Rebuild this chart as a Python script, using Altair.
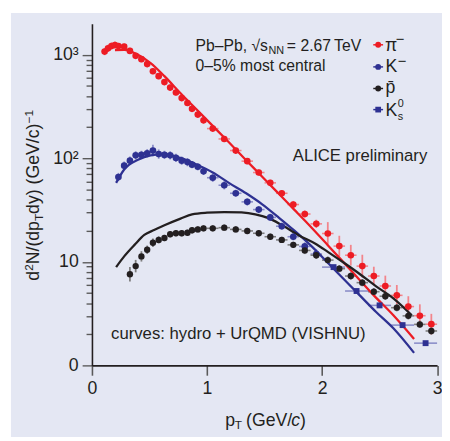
import altair as alt
import pandas as pd

FONT = "Liberation Sans"
TXT = "#231f20"
RED, RED_L = "#ed1c24", "#f2858b"
BLUE, BLUE_L = "#2e3192", "#8a8dc8"
BLACK, BLACK_L = "#231f20", "#7d7d7d"
BG = "#e4e7f3"

# ---------------- data ----------------
pi_pt = [0.11, 0.14, 0.17, 0.20, 0.23, 0.28, 0.33, 0.38, 0.43, 0.48, 0.53, 0.58, 0.63, 0.68,
         0.73, 0.78, 0.83, 0.87, 0.92, 0.97, 1.05, 1.15, 1.25, 1.35, 1.45, 1.55, 1.65, 1.75,
         1.85, 1.95, 2.05, 2.15, 2.25, 2.35, 2.45, 2.55, 2.65, 2.75, 2.85, 2.95]
pi_val = [1076, 1157, 1217, 1244, 1217, 1199, 1091, 979, 909, 815, 695, 623, 546, 483,
          433, 382, 343, 301, 265, 233, 194, 154, 119, 94, 73, 58, 46, 35.8,
          29, 23.3, 18.8, 14.2, 11.6, 9.1, 7.3, 5.85, 4.75, 3.7, 3.02, 2.5]
pi_err = [0.035, 0.035, 0.035, 0.035, 0.03, 0.03, 0.03, 0.03, 0.03, 0.03, 0.03, 0.03, 0.03, 0.03,
          0.03, 0.03, 0.03, 0.03, 0.03, 0.03, 0.03, 0.03, 0.03, 0.03, 0.03, 0.03, 0.03, 0.035,
          0.035, 0.04, 0.11, 0.10, 0.10, 0.11, 0.09, 0.10, 0.10, 0.10, 0.11, 0.10]

km_pt = [0.23, 0.28, 0.33, 0.38, 0.43, 0.48, 0.53, 0.58, 0.63, 0.68, 0.73, 0.78, 0.83,
         0.87, 0.92, 0.97, 1.05, 1.15, 1.25, 1.35, 1.45, 1.55, 1.65, 1.75, 1.85, 1.95]
km_val = [66, 85, 95, 107, 108, 112, 119, 110, 108, 107, 101, 95, 92,
          87, 83, 75, 65, 55, 46, 38, 32, 26.9, 22.1, 17.5, 14.1, 11.9]
km_err = [0.04, 0.04, 0.04, 0.04, 0.04, 0.04, 0.055, 0.045, 0.04, 0.04, 0.04, 0.04, 0.04,
          0.035, 0.035, 0.035, 0.04, 0.04, 0.035, 0.035, 0.035, 0.035, 0.035, 0.035, 0.04, 0.045]

k0_pt = [2.1, 2.3, 2.5, 2.7, 2.9]
k0_val = [8.9, 5.23, 3.8, 2.45, 1.64]
k0_err = [0.02, 0.02, 0.02, 0.02, 0.02]

pb_pt = [0.33, 0.38, 0.43, 0.48, 0.53, 0.58, 0.63, 0.68, 0.73, 0.78, 0.83, 0.87, 0.92, 0.97,
         1.05, 1.15, 1.25, 1.35, 1.45, 1.55, 1.65, 1.75, 1.85, 1.95, 2.05, 2.15, 2.25, 2.35,
         2.45, 2.55, 2.65, 2.75, 2.85, 2.95]
pb_val = [7.6, 9.1, 11.3, 13.1, 15.3, 16.3, 17.0, 18.5, 18.9, 18.9, 19.1, 20.2, 20.6, 21.1,
          21.1, 21.4, 20.6, 19.9, 18.9, 17.5, 16.3, 14.6, 12.9, 11.6, 10.4, 8.6, 7.3, 6.3,
          5.15, 4.66, 3.61, 3.01, 2.49, 2.15]
pb_err = [0.07, 0.06, 0.05, 0.04, 0.04, 0.035, 0.03, 0.03, 0.03, 0.03, 0.03, 0.03, 0.03, 0.03,
          0.03, 0.03, 0.03, 0.03, 0.03, 0.03, 0.03, 0.03, 0.035, 0.035, 0.035, 0.035, 0.035, 0.035,
          0.035, 0.035, 0.035, 0.035, 0.035, 0.035]

# hydro + UrQMD (VISHNU) curves
pi_curve_pt = [0.20, 0.28, 0.40, 0.51, 0.63, 0.77, 0.91, 1.05, 1.19, 1.34, 1.48, 1.62, 1.76,
               1.85, 2.05, 2.25, 2.45, 2.62, 2.80]
pi_curve_val = [1110, 1115, 1000, 834, 623, 426, 296, 206, 143, 96, 66.5, 46, 31.8,
                25.1, 14.5, 8.3, 4.75, 3.05, 1.8]

km_curve_pt = [0.21, 0.28, 0.40, 0.51, 0.63, 0.77, 0.91, 1.05, 1.19, 1.34, 1.48, 1.62, 1.76,
               1.91, 2.05, 2.19, 2.33, 2.47, 2.62, 2.80]
km_curve_val = [58, 78, 97, 107, 110, 101, 87, 73, 58, 46, 36, 27, 20,
                14.1, 9.8, 6.8, 4.72, 3.28, 2.28, 1.32]

pb_curve_pt = [0.21, 0.28, 0.37, 0.455, 0.54, 0.63, 0.77, 0.87, 1.0, 1.15, 1.3, 1.42, 1.53,
               1.65, 1.8, 1.95, 2.05, 2.19, 2.33, 2.47, 2.62, 2.78]
pb_curve_val = [8.9, 11.3, 14.6, 18.2, 20.3, 22.6, 26.2, 28.8, 29.9, 30.3, 30.0, 28.8, 26.6,
                22.7, 18.0, 14.8, 12.5, 9.8, 7.6, 5.8, 4.45, 3.05]

# axis ticks
x_ticks = [0, 1, 2, 3]
y_major = [1, 10, 100, 1000]
y_major_labels = ["0", "10", "10²", "10³"]
y_ticks = [m * 10 ** k for k in range(3) for m in range(1, 10)] + [1000]

# ---------------- build ----------------
W, H = 351.5, 348
xs = alt.Scale(domain=[0, 3], nice=False, zero=False)
ys = alt.Scale(type="log", domain=[1, 2000], nice=False)

major_test = " || ".join(f"datum.value == {v}" for v in y_major)
label_expr = "".join(f"datum.value == {v} ? '{l}' : " for v, l in zip(y_major, y_major_labels)) + "''"

xaxis = alt.Axis(values=x_ticks, format="d", title="", grid=False, zindex=1,
                 tickSize=10, tickColor="#5a5a5a", tickWidth=1.6,
                 domainColor=TXT, domainWidth=1.6, labelFlush=False,
                 labelFont=FONT, labelFontSize=18, labelColor=TXT, labelPadding=5)
yaxis = alt.Axis(values=y_ticks, labelExpr=label_expr, title="", grid=False, zindex=1,
                 tickSize={"condition": {"test": major_test, "value": 10}, "value": 6},
                 tickColor="#5a5a5a", tickWidth=1.4, labelOverlap=False, labelBound=False,
                 domainColor=TXT, domainWidth=1.6,
                 labelFont=FONT, labelFontSize=18, labelColor=TXT, labelPadding=4)


def X(f):
    return alt.X(f"{f}:Q", scale=xs, axis=xaxis)


def Y(f):
    return alt.Y(f"{f}:Q", scale=ys, axis=yaxis)


def series_df(pts, vals, errs, hw_low, hw_high):
    return pd.DataFrame({
        "pt": pts, "val": vals,
        "lo": [v * 10 ** (-e) for v, e in zip(vals, errs)],
        "hi": [v * 10 ** e for v, e in zip(vals, errs)],
        "xlo": [p - (hw_low if p < 1 else hw_high) for p in pts],
        "xhi": [p + (hw_low if p < 1 else hw_high) for p in pts],
    })


series = [
    (series_df(pi_pt, pi_val, pi_err, 0.0, 0.05), RED, RED_L, "circle", 46),
    (series_df(km_pt, km_val, km_err, 0.0, 0.05), BLUE, BLUE_L, "circle", 46),
    (series_df(pb_pt, pb_val, pb_err, 0.0, 0.05), BLACK, BLACK_L, "circle", 42),
    (series_df(k0_pt, k0_val, k0_err, 0.1, 0.1), BLUE, BLUE_L, "square", 36),
]
curves = [
    (pi_curve_pt, pi_curve_val, RED),
    (km_curve_pt, km_curve_val, BLUE),
    (pb_curve_pt, pb_curve_val, BLACK),
]

layers = []
# background panel
layers.append(alt.Chart(pd.DataFrame({"a": [0]})).mark_rect(color=BG).encode(
    x=alt.value(-82.5), x2=alt.value(W + 10), y=alt.value(-11), y2=alt.value(H + 73)))

for df, col, light, shape, size in series:
    base = alt.Chart(df)
    layers.append(base.mark_rule(color=light, strokeWidth=1.8).encode(
        x=X("pt"), y=Y("lo"), y2="hi"))
    layers.append(base.mark_rule(color=light, strokeWidth=1.6).encode(
        x=X("xlo"), x2="xhi", y=Y("val")))

for cp, cv, col in curves:
    layers.append(alt.Chart(pd.DataFrame({"pt": cp, "val": cv})).mark_line(
        color=col, strokeWidth=2.3, interpolate="monotone").encode(x=X("pt"), y=Y("val")))

for df, col, light, shape, size in series:
    layers.append(alt.Chart(df).mark_point(
        shape=shape, filled=True, color=col, opacity=1, size=size).encode(x=X("pt"), y=Y("val")))


def T(s, x, y, size=16, align="left", baseline="middle", angle=0, italic=False, color=TXT):
    kw = dict(align=align, baseline=baseline, font=FONT, fontSize=size, color=color)
    if angle:
        kw["angle"] = angle
    if italic:
        kw["fontStyle"] = "italic"
    return alt.Chart(pd.DataFrame({"s": [s]})).mark_text(**kw).encode(
        x=alt.value(x), y=alt.value(y), text="s:N")


# annotation
layers += [
    T("Pb–Pb, √s", 105.5, 23),
    T("NN", 179.8, 27.5, size=11),
    T("= 2.67\u2009TeV", 198.5, 23),
    T("0–5% most central", 105.5, 43),
    T("ALICE preliminary", 204.5, 135, size=17),
    T("curves: hydro + UrQMD (VISHNU)", 19.5, 316, size=17),
]

# legend
leg_y = [21.5, 44, 66, 87.5]
leg_cols = [RED, BLUE, BLACK, BLUE]
leg_shapes = ["circle", "circle", "circle", "square"]
one = pd.DataFrame({"a": [0]})
for yy, col, shp in zip(leg_y, leg_cols, leg_shapes):
    layers.append(alt.Chart(one).mark_rule(color=col, strokeWidth=1.5).encode(
        x=alt.value(286.5), x2=alt.value(296.5), y=alt.value(yy)))
    layers.append(alt.Chart(one).mark_point(shape=shp, filled=True, color=col, opacity=1,
                                            size=36 if shp == "circle" else 34).encode(
        x=alt.value(291.5), y=alt.value(yy)))
layers += [
    T("π", 298.5, 23, size=18),
    T("−", 309.5, 15.5, size=15),
    T("K", 299, 44.5, size=18),
    T("−", 311.5, 38.5, size=15),
    T("p\u0304", 299, 65.5, size=18),
    T("K", 299, 88.5, size=18),
    T("0", 311.5, 81.5, size=11),
    T("s", 311.5, 95, size=11),
]

# x title
layers += [
    T("p", 135.8, 409.5, size=18, baseline="alphabetic"),
    T("T", 145.5, 413, size=12, baseline="alphabetic"),
    T("(GeV/", 157.0, 409.5, size=18, baseline="alphabetic"),
    T("c", 203.0, 409.5, size=18, baseline="alphabetic", italic=True),
    T(")", 212.0, 409.5, size=18, baseline="alphabetic"),
]
# y title (rotated)
bx = -53.5
layers += [
    T("d", bx, 261.7, size=18, baseline="alphabetic", angle=270),
    T("2", bx - 7, 251.7, size=12, baseline="alphabetic", angle=270),
    T("N/(dp", bx, 245.0, size=18, baseline="alphabetic", angle=270),
    T("T", bx + 3.5, 201.0, size=12, baseline="alphabetic", angle=270),
    T("dy) (GeV/c)", bx, 193.7, size=18, baseline="alphabetic", angle=270),
    T("−1", bx - 7, 101.5, size=12, baseline="alphabetic", angle=270),
]

chart = alt.layer(*layers).properties(
    width=W, height=H,
    padding={"left": 85.5, "top": 12, "right": 5, "bottom": 72},
    autosize=alt.AutoSizeParams(type="none"),
    background="white",
).configure_view(stroke="#3a3a3a", strokeWidth=1.5)

chart.save("out.html", embed_options={"renderer": "svg", "actions": False})
